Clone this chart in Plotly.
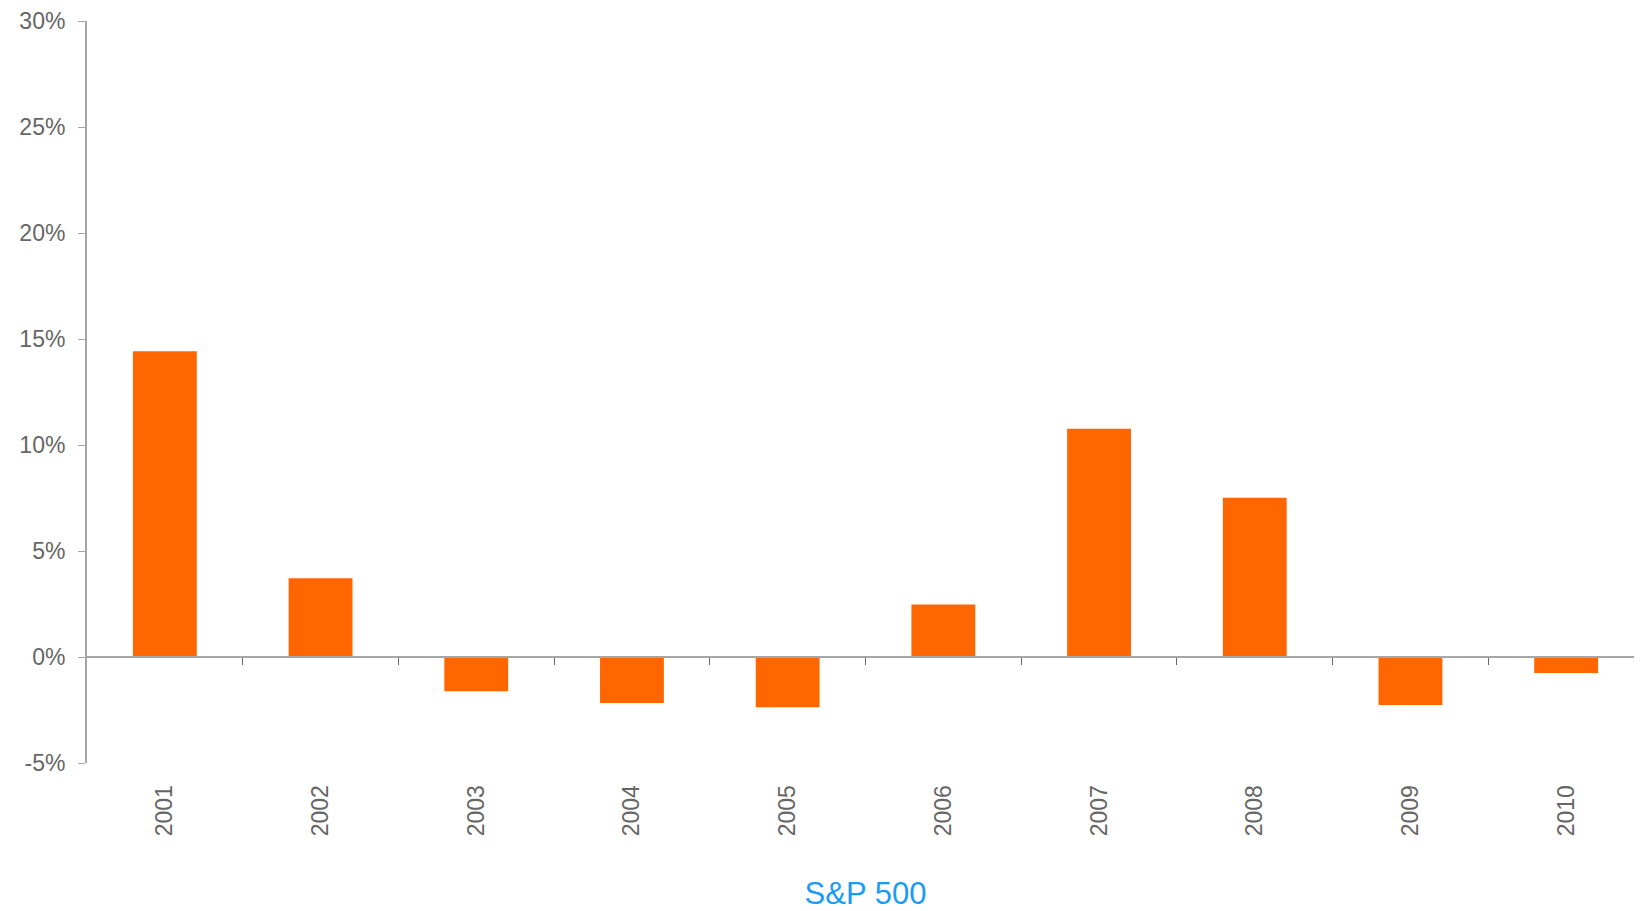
import plotly.graph_objects as go

years = ["2001", "2002", "2003", "2004", "2005", "2006", "2007", "2008", "2009", "2010"]
returns = [14.42, 3.71, -1.62, -2.17, -2.37, 2.48, 10.77, 7.51, -2.26, -0.75]
y_tick_vals = [-5, 0, 5, 10, 15, 20, 25, 30]
y_tick_text = ["-5%", "0%", "5%", "10%", "15%", "20%", "25%", "30%"]

pos = list(range(len(years)))
bounds = [p + 0.5 for p in pos[:-1]]

FONT = "Liberation Sans, Arial, sans-serif"
GREY = "#666666"
LINE = "#a6a6a6"

fig = go.Figure()
fig.add_trace(go.Bar(x=pos, y=returns, marker=dict(color="#ff6600", line=dict(width=0)),
                     width=0.41, showlegend=False, hoverinfo="x+y"))
# helper invisible trace to hold the zero-line axis
fig.add_trace(go.Scatter(x=bounds, y=[0] * len(bounds), xaxis="x2", mode="markers",
                         marker=dict(opacity=0), showlegend=False, hoverinfo="skip"))

# the page body adds an 8px offset, so the figure is sized to fit the window
fig.update_layout(
    width=1636, height=903,
    margin=dict(l=79, r=0, t=13, b=148),
    paper_bgcolor="white", plot_bgcolor="white",
    font=dict(family=FONT, color=GREY, size=23),
    xaxis=dict(
        range=[-0.5, 9.5], tickvals=pos, ticktext=years, tickangle=-90,
        showgrid=False, zeroline=False, showline=False, automargin=False,
        ticks="outside", ticklen=12, tickcolor="rgba(0,0,0,0)",
        tickfont=dict(size=23, color=GREY),
        title=dict(text="S&P 500", font=dict(size=31, color="#1a9cf5"), standoff=52),
    ),
    xaxis2=dict(
        range=[-0.5, 9.5], overlaying="x", anchor="free", position=1 / 7,
        tickvals=bounds, showticklabels=False, ticks="outside", ticklen=7,
        tickcolor=GREY, tickwidth=1, showline=True, linecolor=LINE, linewidth=2,
        showgrid=False, zeroline=False, automargin=False,
    ),
    yaxis=dict(
        range=[-5, 30], tickvals=y_tick_vals, ticktext=y_tick_text,
        showgrid=False, zeroline=False, showline=True, linecolor=LINE, linewidth=2,
        ticks="outside", ticklen=7, tickcolor=LINE, tickwidth=1, automargin=False,
        ticklabelstandoff=8,
        tickfont=dict(size=23, color=GREY),
    ),
)

fig.write_html("out.html")
